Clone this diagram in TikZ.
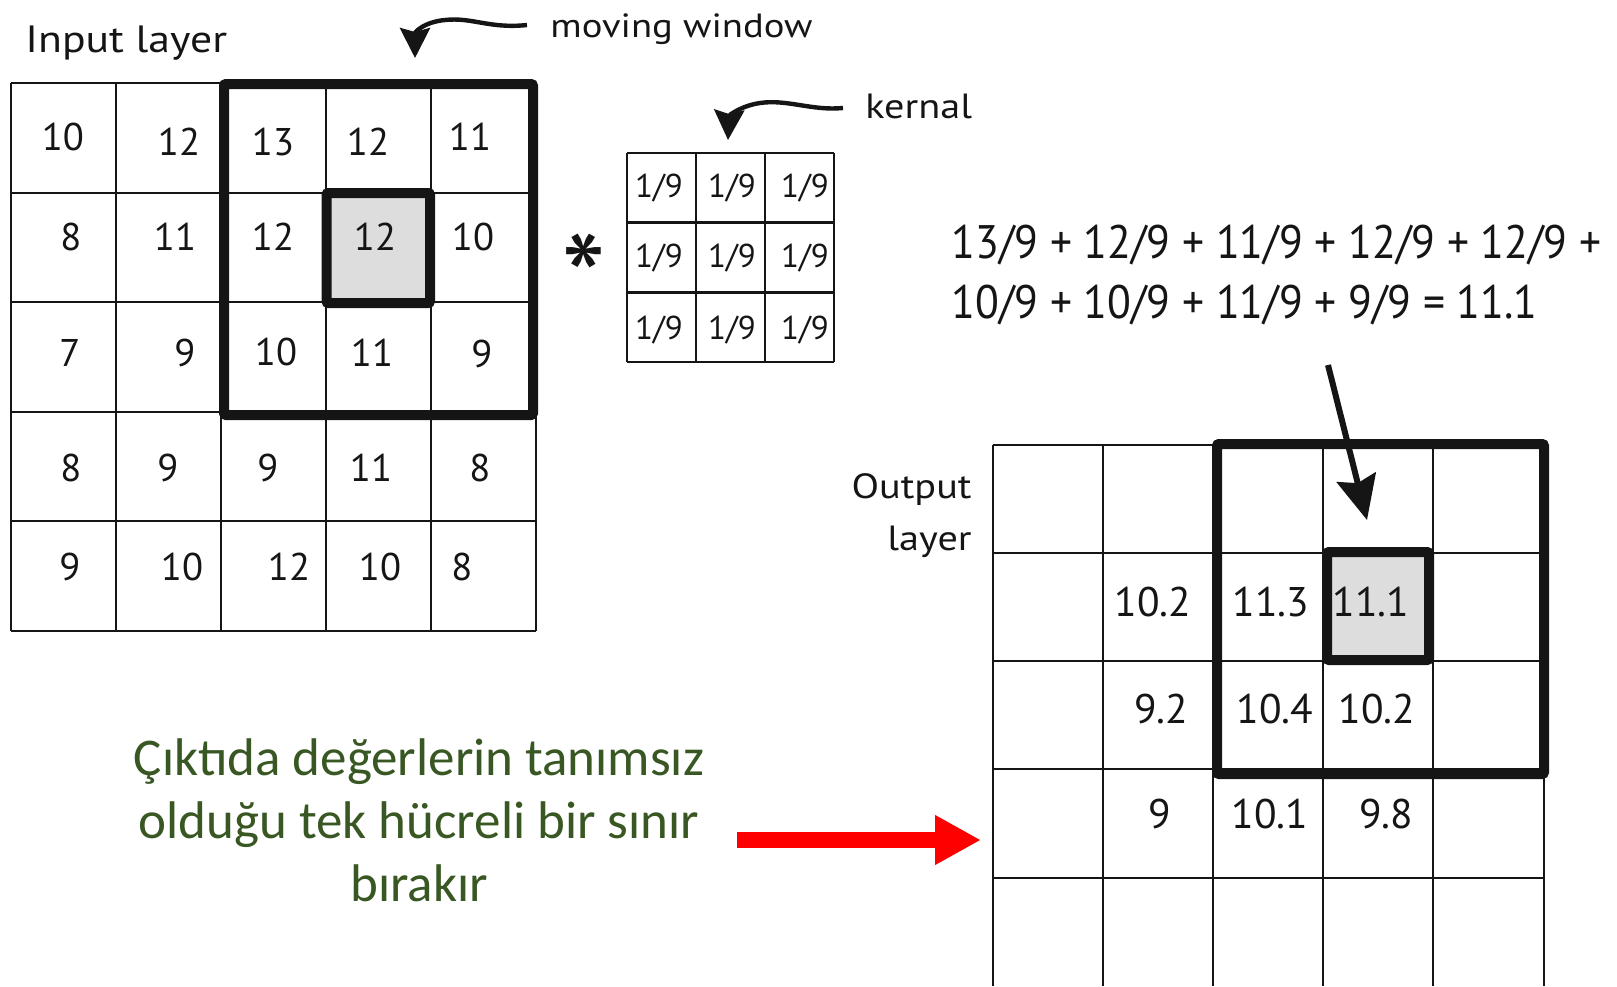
\documentclass[tikz,border=0pt]{standalone}
\usepackage{fontspec}
\setmainfont{PT Sans}
\newfontfamily\hand{PT Sans}
\newfontfamily\handwide[FakeStretch=1.15]{PT Sans}
\newfontfamily\handnarrow[FakeStretch=0.93]{PT Sans}
\newfontfamily\notefont{Carlito}
\usetikzlibrary{arrows.meta}
\definecolor{notegreen}{HTML}{385723}
\definecolor{cellgray}{HTML}{DDDDDD}
\definecolor{ink}{HTML}{151515}
\begin{document}
\begin{tikzpicture}[x=0.5pt,y=-0.5pt,
  gridline/.style={draw=ink, line width=1pt},
  kerline/.style={draw=ink, line width=1.25pt},
  window/.style={draw=ink, line width=5pt, rounded corners=1pt},
  focus/.style={window, fill=cellgray},
  innum/.style={font=\hand\fontsize{19.3}{20}\selectfont, inner sep=0pt, text=ink},
  outnum/.style={font=\hand\fontsize{20.7}{22}\selectfont, inner sep=0pt, text=ink},
  kernum/.style={font=\hand\fontsize{16.5}{18}\selectfont, inner sep=0pt, text=ink},
  handlabel/.style={font=\handwide\fontsize{17.5}{20}\selectfont, inner sep=0pt, text=ink},
  formula/.style={font=\handnarrow\fontsize{23.5}{26}\selectfont, inner sep=0pt, text=ink},
  note/.style={font=\notefont\fontsize{26.5}{31.5}\selectfont, text=notegreen, inner sep=0pt},
  curly/.style={draw=ink, line width=2.2pt, -{Stealth[length=15pt,width=15pt,inset=2pt]}},
  pointer/.style={draw=ink, line width=3pt, -{Stealth[length=22pt,width=20pt,inset=3pt]}},
  redarrow/.style={draw=red, line width=8.3pt, -{Triangle[length=23pt,width=23.3pt]}}
]
\useasboundingbox (0,0) rectangle (1617,986);

% ---------- input layer: 5x5 grid ----------
\foreach \i in {0,...,5} {
  \draw[gridline] ({10.5+105*\i},83) -- ({10.5+105*\i},630.5);
  \draw[gridline] (10.5,{83+109.5*\i}) -- (535.5,{83+109.5*\i});
}
\draw[window] (224,84) rectangle (533,415);
\draw[focus] (326.5,193) rectangle (430,303);

\foreach \r/\c/\x/\y/\t in {
  1/1/63/137/10, 1/2/179/141.5/12, 1/3/273/141.5/13, 1/4/368/141.5/12, 1/5/470/137/11,
  2/1/71/236.5/8, 2/2/175/236.5/11, 2/3/273/236.5/12, 2/4/375/236.5/12, 2/5/473/236.5/10,
  3/1/70/352.5/7, 3/2/185/353/9, 3/3/276/352/10, 3/4/372/352.5/11, 3/5/482/354/9,
  4/1/71/468/8, 4/2/168/468/9, 4/3/268/468/9, 4/4/371/468/11, 4/5/480/468/8,
  5/1/70/567/9, 5/2/182/567/10, 5/3/289/567/12, 5/4/380/567/10, 5/5/462/567/8}
  \node[innum] (in-\r-\c) at (\x,\y) {\t};

\node[handlabel, font=\handwide\fontsize{19}{20}\selectfont, anchor=base west] (inlabel) at (25,52) {Input layer};
\node[handlabel, font=\handwide\fontsize{16.8}{20}\selectfont, anchor=base west] (mwlabel) at (550,37) {moving window};

% ---------- kernel ----------
\foreach \i in {0,...,3} {
  \draw[kerline] ({627+69*\i},153) -- ({627+69*\i},362);
  \draw[kerline] (627,{153+69.67*\i}) -- (834,{153+69.67*\i});
}
\foreach \r/\y in {1/188,2/258,3/330}
  \foreach \c/\x in {1/659,2/732,3/805}
    \node[kernum] (k-\r-\c) at (\x,\y) {1/9};

\node[handlabel, anchor=base west] (klabel) at (865,118) {kernal};
\node[font=\hand\fontsize{64}{64}\selectfont, inner sep=0pt, anchor=base, text=ink] (conv) at (584,325) {*};

% ---------- formula ----------
\node[formula, anchor=base west] (sum1) at (951,258) {13/9 + 12/9 + 11/9 + 12/9 + 12/9 +};
\node[formula, anchor=base west] (sum2) at (951,318) {10/9 + 10/9 + 11/9 + 9/9 = 11.1};

% ---------- output layer ----------
\foreach \i in {0,...,5}
  \draw[gridline] ({992.5+110.2*\i},444.5) -- ({992.5+110.2*\i},986);
\foreach \j in {0,...,4}
  \draw[gridline] (992.5,{444.5+108.3*\j}) -- (1543.5,{444.5+108.3*\j});
\draw[window] (1217,444) rectangle (1544,774);
\draw[focus] (1327,552) rectangle (1429,660);

\foreach \r/\c/\x/\y/\t in {
  2/2/1153/602/10.2, 2/3/1271/602/11.3, 2/4/1371/602/11.1,
  3/2/1161/708.5/9.2, 3/3/1275/708.5/10.4, 3/4/1377/708.5/10.2,
  4/2/1160/813.5/9, 4/3/1270/813.5/10.1, 4/4/1386/813.5/9.8}
  \node[outnum] (out-\r-\c) at (\x,\y) {\t};

\node[handlabel, anchor=base east] (outlabel1) at (972,498) {Output};
\node[handlabel, anchor=base east] (outlabel2) at (972,550) {layer};

% ---------- note ----------
\node[note, anchor=base] (note1) at (419,775) {Çıktıda değerlerin tanımsız};
\node[note, anchor=base] (note2) at (419,838) {olduğu tek hücreli bir sınır};
\node[note, anchor=base] (note3) at (419,901) {bırakır};

% ---------- arrows ----------
\coordinate (mw-tail) at (527,25);
\coordinate (mw-head) at (415,58);
\draw[curly] (mw-tail) .. controls (490,29) and (472,17) .. (445,20)
                       .. controls (424,22) and (415,32) .. (mw-head);
\coordinate (k-tail) at (843,108);
\coordinate (k-head) at (728,140);
\draw[curly] (k-tail) .. controls (812,111) and (787,99) .. (760,103)
                      .. controls (740,106) and (729,116) .. (k-head);
\coordinate (p-tail) at (1328,365);
\coordinate (p-head) at (1367,520);
\draw[pointer] (p-tail) -- (p-head);
\coordinate (r-tail) at (737,840);
\coordinate (r-head) at (981,840);
\draw[redarrow] (r-tail) -- (r-head);
\end{tikzpicture}
\end{document}
